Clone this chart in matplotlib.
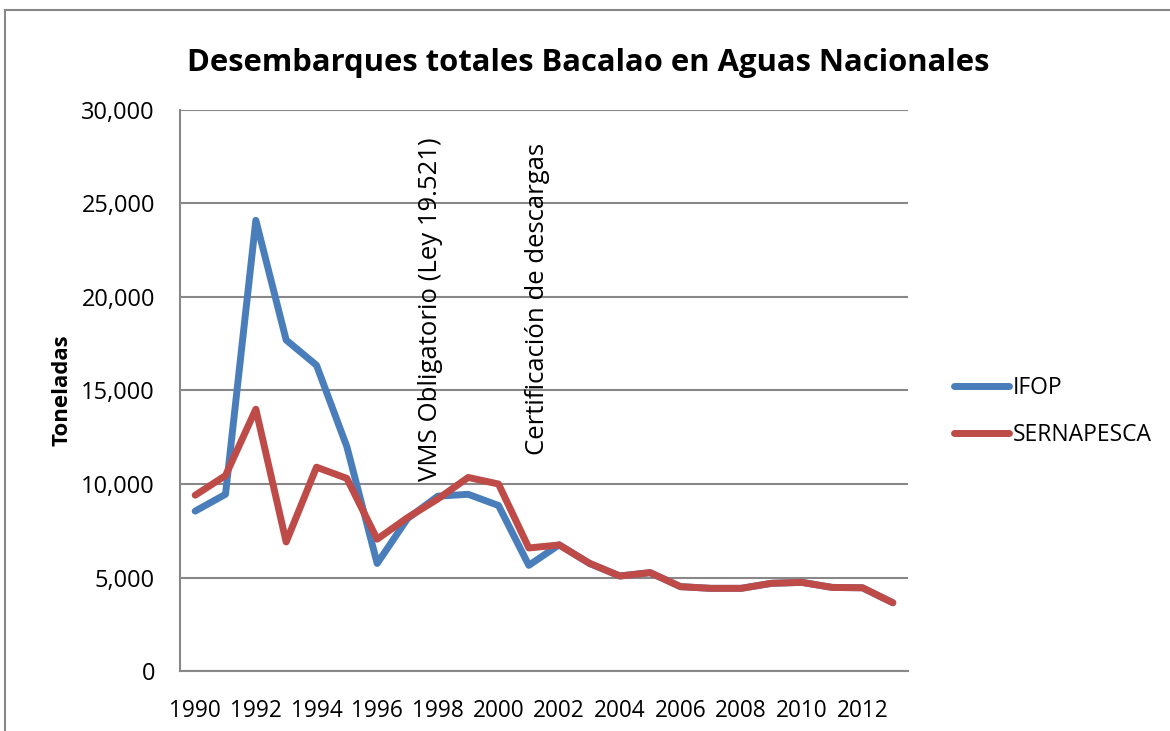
import numpy as np
import matplotlib.pyplot as plt
from matplotlib.patches import Rectangle

years = list(range(1990, 2014))
ifop = [8550, 9450, 24100, 17700, 16350, 12000, 5750, 8150, 9350, 9450, 8850, 5650,
        6750, 5750, 5080, 5260, 4510, 4420, 4420, 4690, 4740, 4470, 4450, 3650]
sernapesca = [9400, 10450, 14000, 6900, 10900, 10300, 7050, 8200, 9200, 10350, 10000, 6580,
              6740, 5760, 5080, 5260, 4510, 4420, 4420, 4690, 4740, 4470, 4450, 3650]
tick_years = years[::2]
notes = ["VMS Obligatorio (Ley 19.521)", "Certificación de descargas"]
note_x = [1997.75, 2001.3]
note_y = [10150, 11550]

plt.rcParams['font.family'] = ['Open Sans', 'DejaVu Sans']

fig = plt.figure(figsize=(11.7, 7.31), dpi=100)
ax = fig.add_axes([180/1170, 1-671/731, 728/1170, 561/731])

x = np.arange(len(years))
ax.plot(x, ifop, color='#4a7ebb', lw=5, label='IFOP', solid_capstyle='round')
ax.plot(x, sernapesca, color='#be4b48', lw=5, label='SERNAPESCA', solid_capstyle='round')

ax.set_xlim(-0.5, len(years) - 0.5)
ax.set_ylim(0, 30000)
ax.set_yticks(np.arange(0, 30001, 5000))
ax.set_yticklabels([f"{v:,}" for v in range(0, 30001, 5000)], fontsize=17)
ax.set_xticks(x[::2])
ax.set_xticklabels([str(y) for y in tick_years], fontsize=16.3)
ax.tick_params(axis='x', length=0, pad=20)
ax.tick_params(axis='y', length=0, pad=18)
ax.yaxis.grid(True, color='#888888', lw=1.5)
ax.set_axisbelow(True)
for s in ['top', 'right']:
    ax.spines[s].set_visible(False)
for s in ['left', 'bottom']:
    ax.spines[s].set_color('#888888')
    ax.spines[s].set_linewidth(1.5)

ax.set_ylabel('Toneladas', fontsize=16, fontweight='bold', labelpad=6)

for nx, ny, txt in zip(note_x, note_y, notes):
    xi = years.index(int(nx)) + (nx - int(nx))
    ax.text(xi, ny, txt, rotation=90, fontsize=18.5, ha='center', va='bottom')

fig.text(0.503, 1-63/731, 'Desembarques totales Bacalao en Aguas Nacionales',
         fontsize=22.3, fontweight='bold', ha='center', va='center')

ax.legend(loc='center left', bbox_to_anchor=(1.035, 0.462), frameon=False, fontsize=16.5,
          handlelength=2.4, handletextpad=0.15, labelspacing=1.0)

fig.patches.append(Rectangle((5/1170, -0.1), 1.2, 1.1 - 10/731, transform=fig.transFigure,
                             fill=False, edgecolor='#888888', lw=1.5))

fig.savefig('out.png', dpi=100)
